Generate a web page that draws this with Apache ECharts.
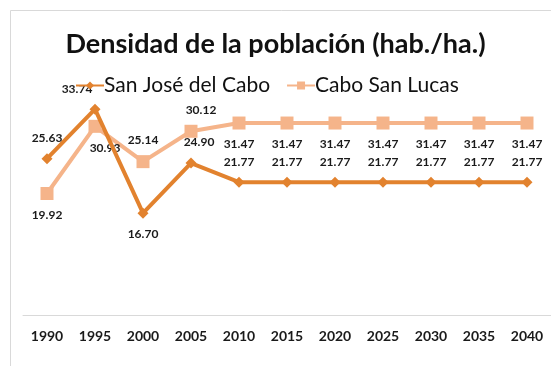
<!DOCTYPE html>
<html>
<head>
<meta charset="utf-8">
<script src="https://cdn.jsdelivr.net/npm/echarts@6/dist/echarts.min.js"></script>
<style>
  html, body { margin: 0; padding: 0; background: #fff; }
  #chart { width: 551px; height: 366px; }
</style>
</head>
<body>
<div id="chart"></div>
<script>
// Population density per census year (inhabitants per hectare)
const years = ['1990', '1995', '2000', '2005', '2010', '2015', '2020', '2025', '2030', '2035', '2040'];
const sanJose = [25.63, 33.74, 16.70, 24.90, 21.77, 21.77, 21.77, 21.77, 21.77, 21.77, 21.77];
const caboSanLucas = [19.92, 30.93, 25.14, 30.12, 31.47, 31.47, 31.47, 31.47, 31.47, 31.47, 31.47];

const darkOrange = '#E2822E';
const lightOrange = '#F5B48A';
const font = 'Lato, "Open Sans", sans-serif';

const labelBase = {
  show: true,
  fontFamily: font,
  fontSize: 12,
  fontWeight: 'bold',
  color: '#1a1a1a',
  formatter: p => p.value.toFixed(2)
};

// per-point label placement
const sanJoseLabels = [
  { position: 'top', offset: [0, 0] },
  { position: 'top', offset: [-18, 0] },
  { position: 'bottom', offset: [0, 0] },
  { position: 'top', offset: [8, 0] }
];
const caboLabels = [
  { position: 'bottom', offset: [0, 0] },
  { position: 'bottom', offset: [10, 0] },
  { position: 'top', offset: [0, 0] },
  { position: 'top', offset: [10, 0] }
];

function withLabels(values, overrides) {
  return values.map((v, i) => overrides[i] ? { value: v, label: overrides[i] } : v);
}

const chart = echarts.init(document.getElementById('chart'), null, { renderer: 'canvas' });
chart.setOption({
  animation: false,
  backgroundColor: '#fff',
  title: {
    text: 'Densidad de la población (hab./ha.)',
    left: 'center',
    top: 26,
    textStyle: { fontFamily: font, fontSize: 27, fontWeight: 'bold', color: '#111' }
  },
  legend: {
    top: 70,
    left: 70,
    itemWidth: 28,
    itemHeight: 10,
    itemGap: 16,
    textStyle: { fontFamily: font, fontSize: 21, color: '#111', padding: [0, 0, 0, -5] },
    data: ['San José del Cabo', 'Cabo San Lucas']
  },
  graphic: [{
    type: 'rect',
    shape: { x: 10.5, y: 10.5, width: 620, height: 420 },
    style: { fill: 'none', stroke: '#d9d9d9', lineWidth: 1 },
    silent: true
  }],
  grid: { left: 23, width: 533, top: 71, bottom: 51 },
  xAxis: {
    type: 'category',
    data: years,
    boundaryGap: true,
    axisLine: { lineStyle: { color: '#d9d9d9', width: 1 } },
    axisTick: { show: false },
    axisLabel: {
      fontFamily: font, fontSize: 14, fontWeight: 'bold', color: '#1a1a1a', margin: 14
    }
  },
  yAxis: {
    type: 'value', min: 0, max: 40, show: false,
    splitLine: { show: false }
  },
  series: [
    {
      name: 'San José del Cabo',
      type: 'line',
      data: withLabels(sanJose, sanJoseLabels),
      symbol: 'diamond',
      symbolSize: 11,
      z: 3,
      lineStyle: { color: darkOrange, width: 4 },
      itemStyle: { color: darkOrange },
      label: Object.assign({}, labelBase, { position: 'top', distance: 9 })
    },
    {
      name: 'Cabo San Lucas',
      type: 'line',
      data: withLabels(caboSanLucas, caboLabels),
      symbol: 'rect',
      symbolSize: 13,
      z: 2,
      lineStyle: { color: lightOrange, width: 4 },
      itemStyle: { color: lightOrange },
      label: Object.assign({}, labelBase, { position: 'bottom', distance: 9 })
    }
  ]
});
</script>
</body>
</html>
